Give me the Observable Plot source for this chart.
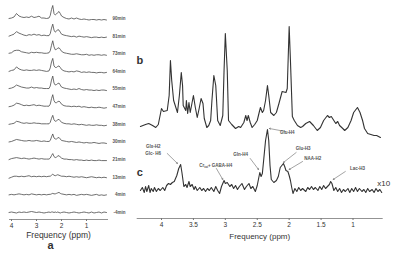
<!DOCTYPE html>
<html><head><meta charset="utf-8">
<script src="https://cdn.jsdelivr.net/npm/d3@7"></script>
<script src="https://cdn.jsdelivr.net/npm/@observablehq/plot@0.6"></script>
<style>
html,body{margin:0;padding:0;background:#fff;}
#wrap{position:relative;width:400px;height:266px;overflow:hidden;}
#wrap svg{position:absolute;top:0;}
</style></head><body><div id="wrap"></div>
<script>
// ---------- Panel a: spectra over time ----------
const timeLabels = ["90min","81min","73min","64min","55min","47min","38min","30min","21min","13min","4min","-4min"];
const ppmA = [4.1,4.0,3.9,3.8,3.7,3.6,3.5,3.4,3.3,3.2,3.1,3.0,2.9,2.8,2.7,2.6,2.5,2.45,2.4,2.35,2.3,2.25,2.2,2.15,2.1,2.05,2.0,1.9,1.8,1.7,1.6,1.5,1.4,1.3,1.2,1.1,1.0,0.9,0.8,0.7,0.6,0.5,0.4,0.3,0.2];
const tracesA = [
 [0,0.5,1.5,5,2.5,1.5,1,1.5,1,2.3,1,1.5,2.3,0.5,0.5,0,0.5,3,9,13,5,3.5,4.5,6,7,5,2.5,1,0,-0.5,0.5,-0.5,0.5,-0.5,-1,-0.5,-1,-1.5,-1,-1,-1.5,-1,-1.5,-1,-1.5],
 [0,1,2,4.5,3,2,1,0.5,1.5,1,2,1,1.5,0.5,1,0.5,0.5,2.5,8,12,6,4,5,6.5,6,4,2,1,0.5,0,-0.5,0,-1,0,-0.5,-1,-0.5,-1,-1.5,-1,-1,-1.5,-1,-1.5,-1],
 [0.5,1,3,3.5,3.5,2,1.5,1,0.5,1.5,1,1.5,1,1,0.5,0.5,1,3,8.5,13,7,4,4.5,5.5,6,4.5,2.5,1,0.5,0,-0.5,-0.5,0,-0.5,-1,-1,-0.5,-1.5,-1,-1.5,-1,-1,-1.5,-1,-1.5],
 [0,1,1.5,4.5,2.5,1.5,1,1.5,1,1,1.5,1,1.5,1,0.5,0,0.5,3.5,9.5,13,5.5,4,4,5,5.5,4,2,0.5,0,-0.5,0,-0.5,0.5,0,-1,-0.5,-1,-0.5,-1,-1,-1.5,-1,-1,-1.5,-1],
 [0.5,1,2,4,3,2,1.5,1,1,2,1,1.5,1,1,0.5,0.5,0.5,3,9,13,6,4,4.5,5.5,6,4,2,1,0.5,0,-0.5,0,-0.5,0.5,-0.5,-1,-0.5,-1,-1,-1.5,-1,-1.5,-1,-1,-1.5],
 [0,0.5,1.5,3.5,3,2,1,1.5,1,1.5,2,1,1.5,1,0.5,0.5,0.5,2.5,8,12,6,4,4,5,5.5,4.5,2.5,1,0.5,0.5,0,0.5,0,0.5,-0.5,0,-0.5,-1,-0.5,-1,-1,-0.5,-1,-1.5,-1],
 [0,0.5,1,3,2.5,1.5,1,1.5,1,1,1.5,1,1,0.5,0.5,0.5,0.5,2,6,9,4.5,3,3.5,4.5,5,3.5,2,1,0.5,0.5,0,0.5,0,-0.5,0,-0.5,-1,-0.5,-1,-1,-0.5,-1,-1,-1.5,-1],
 [0,0.5,1.5,2.5,2,1.5,1,1,1.5,1,1,1.5,1,0.5,1,0.5,0.5,1.5,5,8,4,3,3,4,4.5,3,1.5,1,0.5,0,0.5,0,-0.5,0,-0.5,-1,-0.5,-1,-1,-0.5,-1,-1.5,-1,-1,-1.5],
 [0,1,1.5,2,1.5,1,1.5,1,0.5,1,1.5,1,0.5,1,0.5,0.5,0.5,1.5,4,6,3,2,2.5,3.5,4,2.5,1.5,0.5,0.5,0,0,-0.5,0,-0.5,-0.5,-1,-0.5,-1,-0.5,-1,-1,-0.5,-1,-1,-1],
 [-1,0,1,1,0.5,1,0.5,1,1.5,0.5,1,0.5,1,0.5,1,0.5,1,1,2,3,2,1.5,2,2.5,2,1.5,1,1,0.5,1,0.5,0,0.5,0,0.5,0,-0.5,0,0.5,0,-0.5,0,-0.5,0,-0.5],
 [0,0.5,0,0.5,1,0.5,0,0.5,0,1,0.5,0,0.5,0,0.5,0,0.5,0.5,1,1.5,1,1,1.5,2,2.5,1.5,1,0.5,0,0.5,0,0.5,-0.5,0,0.5,0,0.5,0,-0.5,0,0.5,-0.5,0,-0.5,0],
 [0,0.5,0,-0.5,0.5,0,0.5,0,0.5,1,0.5,0,0.5,0,-0.5,0,0.5,0,0.5,0.5,0,0.5,0,0.5,0,-0.5,0,0.5,0,-0.5,0,0.5,0,-0.5,0,0.5,0,-0.5,0.5,-0.5,0,0.5,-0.5,0.5,0]
];
const ticksA = [4,3,2,1];

// ---------- Panels b and c ----------
const ppmB = [4.33,4.25,4.20,4.14,4.09,4.05,4.00,3.97,3.91,3.88,3.86,3.84,3.81,3.75,3.72,3.69,3.67,3.66,3.62,3.61,3.59,3.57,3.55,3.50,3.47,3.44,3.41,3.38,3.35,3.33,3.29,3.26,3.23,3.21,3.18,3.15,3.12,3.08,3.04,3.02,3.00,2.97,2.95,2.90,2.84,2.79,2.76,2.71,2.68,2.66,2.64,2.61,2.58,2.54,2.50,2.47,2.45,2.42,2.40,2.37,2.34,2.32,2.29,2.24,2.20,2.16,2.11,2.05,2.03,2.00,1.98,1.95,1.92,1.87,1.82,1.79,1.74,1.68,1.62,1.56,1.51,1.46,1.40,1.37,1.34,1.30,1.27,1.24,1.21,1.16,1.13,1.08,1.03,0.99,0.93,0.89,0.85,0.82,0.77,0.72,0.67,0.63,0.57];
const valB = [0,2,3,1,-1,2,18,15,16,31,66,46,26,14,31,54,41,21,16,26,13,24,14,31,19,9,18,28,23,8,-1,1,6,26,51,41,6,1,11,56,93,56,6,2,-2,0,-1,4,11,6,11,4,-1,2,6,14,19,14,16,26,41,31,14,11,14,23,35,34,38,100,66,10,6,1,-1,0,3,5,1,-4,-1,6,11,9,10,6,3,5,1,-2,-4,-1,6,14,19,14,6,-2,-7,-8,-9,-9,-11];
const ppmC = [4.33,4.30,4.27,4.25,4.23,4.20,4.18,4.16,4.13,4.11,4.08,4.05,4.02,3.98,3.95,3.92,3.89,3.86,3.83,3.80,3.76,3.73,3.70,3.68,3.65,3.62,3.60,3.57,3.55,3.52,3.49,3.47,3.44,3.40,3.37,3.34,3.31,3.28,3.25,3.22,3.18,3.15,3.12,3.09,3.06,3.02,3.00,2.97,2.93,2.90,2.87,2.84,2.81,2.78,2.74,2.70,2.67,2.63,2.60,2.57,2.53,2.50,2.46,2.44,2.42,2.40,2.37,2.34,2.32,2.30,2.28,2.24,2.20,2.17,2.14,2.09,2.07,2.05,2.02,2.00,1.98,1.96,1.94,1.91,1.88,1.85,1.82,1.79,1.74,1.71,1.68,1.65,1.62,1.59,1.55,1.52,1.49,1.46,1.43,1.40,1.37,1.35,1.33,1.30,1.27,1.24,1.21,1.18,1.15,1.12,1.08,1.05,1.02,0.99,0.96,0.93,0.90,0.86,0.83,0.80,0.77,0.74,0.70,0.67,0.64,0.61,0.58,0.55];
const valC = [-1,2,-3,3,-2,4,-3,1,-2,2,-2,1,-1,2,-1,4,6,5,7,8,14,21,25,17,3,5,2,8,3,5,0,3,-1,2,-1,1,-2,1,-1,2,-2,3,-1,-4,3,9,6,7,3,5,1,4,0,3,6,0,3,6,1,3,-2,4,17,13,16,29,49,60,49,24,10,7,9,13,22,26,23,19,18,14,9,2,-4,1,-2,2,-1,1,-2,2,0,3,0,2,-1,3,0,4,1,3,5,8,6,-1,2,-2,1,-3,0,-2,1,-3,1,-2,2,-2,1,-2,0,-3,1,-2,0,-3,1,-2,0,-3];
const ticksBC = [4,3.5,3,2.5,2,1.5,1];

// annotations (label, label ppm, label height, anchor, arrow tail ppm/height, arrow tip ppm/height)
const annoText   = ["Glu-H4","Glx-H2","Glc- H6","Gln-H4","Cr_tot+ GABA-H4","Glu-H3","NAA-H2","Lac-H3"];
const annoPpm    = [2.03,4.13,4.13,2.76,3.15,1.78,1.63,0.93];
const annoH      = [82,68,61,60,49,66,56,46];
const annoAnchor = ["start","middle","middle","middle","middle","middle","middle","middle"];
const arrowFromPpm = [2.06,3.91,2.61,3.14,1.89,1.79,1.12];
const arrowFromH   = [83,61,56,46,62,53,43];
const arrowToPpm   = [2.31,3.75,2.48,3.04,2.09,2.00,1.31];
const arrowToH     = [86,51,45,35,52,45,35];

const FONT = "Liberation Sans, Arial, sans-serif";
const wrap = document.getElementById("wrap");
const fmt = d => String(d);

// ----- build panel a -----
const STEP = 17.64;
const nA = timeLabels.length;
const rowsA = [];
tracesA.forEach((vals, k) => {
  vals.forEach((v, j) => { if (j < ppmA.length) rowsA.push({label: timeLabels[k], row: nA - 1 - k, ppm: ppmA[j], v}); });
});
const labelsA = timeLabels.map((t, k) => ({t, row: nA - 1 - k}));

const plotA = Plot.plot({
  width: 130, height: 266,
  marginLeft: 9, marginRight: 23, marginTop: 10, marginBottom: 47,
  style: {fontFamily: FONT, color: "#333", background: "transparent", overflow: "visible"},
  x: {domain: [4, 1], range: [11, 86]},
  y: {domain: [0, (nA - 1) * STEP], range: [212, 18], axis: null},
  marks: [
    Plot.frame({anchor: "bottom", stroke: "#777", strokeWidth: 0.8}),
    Plot.axisX({ticks: ticksA, tickFormat: fmt, tickSize: 2, tickPadding: 2, fontSize: 6.5, label: null, stroke: "#777"}),
    Plot.lineY(rowsA, {x: "ppm", y: d => d.row * STEP + d.v, z: "label", stroke: "#4a4a4a", strokeWidth: 0.8}),
    Plot.text(labelsA, {y: d => d.row * STEP, frameAnchor: "right", dx: 18, textAnchor: "end", text: "t", fontSize: 4.5, fontWeight: "bold", fill: "#555"}),
    Plot.text(["Frequency (ppm)"], {frameAnchor: "bottom", dy: 18, text: d => d, fontSize: 8.5, fill: "#333"}),
    Plot.text(["a"], {frameAnchor: "bottom", dx: -8, dy: 29, text: d => d, fontSize: 11, fontWeight: "bold", fill: "#333"})
  ]
});
plotA.style.left = "0px";
wrap.appendChild(plotA);

// ----- build panels b & c -----
const OFF_B = 88, OFF_C = 25;
const rowsB = ppmB.slice(0, Math.min(ppmB.length, valB.length)).map((p, i) => ({ppm: p, v: valB[i]}));
const rowsC = ppmC.slice(0, Math.min(ppmC.length, valC.length)).map((p, i) => ({ppm: p, v: valC[i]}));
const anno = annoText.map((t, i) => ({t, ppm: annoPpm[i], h: annoH[i], a: annoAnchor[i]}));
const arrows = arrowFromPpm.map((p, i) => ({x1: p, y1: arrowFromH[i], x2: arrowToPpm[i], y2: arrowToH[i]}));

const plotBC = Plot.plot({
  width: 270, height: 266,
  marginLeft: 6.7, marginRight: 18.3, marginTop: 10, marginBottom: 48,
  style: {fontFamily: FONT, color: "#333", background: "transparent", overflow: "visible"},
  x: {domain: [4, 1], range: [31, 222.5]},
  y: {domain: [0, 200], range: [214, 14], axis: null},
  marks: [
    Plot.frame({anchor: "bottom", stroke: "#777", strokeWidth: 0.8}),
    Plot.axisX({ticks: ticksBC, tickFormat: fmt, tickSize: 2, tickPadding: 2, fontSize: 6.5, label: null, stroke: "#777"}),
    Plot.lineY(rowsB, {x: "ppm", y: d => OFF_B + d.v, stroke: "#333", strokeWidth: 1.1}),
    Plot.lineY(rowsC, {x: "ppm", y: d => OFF_C + d.v, stroke: "#333", strokeWidth: 1.1}),
    Plot.arrow(arrows, {x1: "x1", y1: "y1", x2: "x2", y2: "y2", stroke: "#666", strokeWidth: 0.6, headLength: 3, inset: 0}),
    Plot.text(anno, {x: "ppm", y: "h", text: "t", textAnchor: d => d.a, fontSize: 4.5, fontWeight: "bold", fill: "#555"}),
    Plot.text(["b"], {x: () => 4.34, y: () => 154, text: d => d, fontSize: 11, fontWeight: "bold", fill: "#333"}),
    Plot.text(["c"], {x: () => 4.34, y: () => 42, text: d => d, fontSize: 11, fontWeight: "bold", fill: "#333"}),
    Plot.text(["x10"], {x: () => 0.52, y: () => 31, text: d => d, fontSize: 8, fill: "#333"}),
    Plot.text(["Frequency (ppm)"], {frameAnchor: "bottom", dy: 20, text: d => d, fontSize: 8, fill: "#333"})
  ]
});
plotBC.style.left = "130px";
wrap.appendChild(plotBC);

// subscript for Cr_tot
const NS = "http://www.w3.org/2000/svg";
plotBC.querySelectorAll("text").forEach(t => {
  if (t.textContent === "Cr_tot+ GABA-H4") {
    t.textContent = "";
    const a = document.createElementNS(NS, "tspan"); a.textContent = "Cr";
    const s = document.createElementNS(NS, "tspan"); s.textContent = "tot"; s.setAttribute("font-size", "3"); s.setAttribute("dy", "1");
    const r = document.createElementNS(NS, "tspan"); r.textContent = "+ GABA-H4"; r.setAttribute("dy", "-1");
    t.append(a, s, r);
  }
});
</script></body></html>
